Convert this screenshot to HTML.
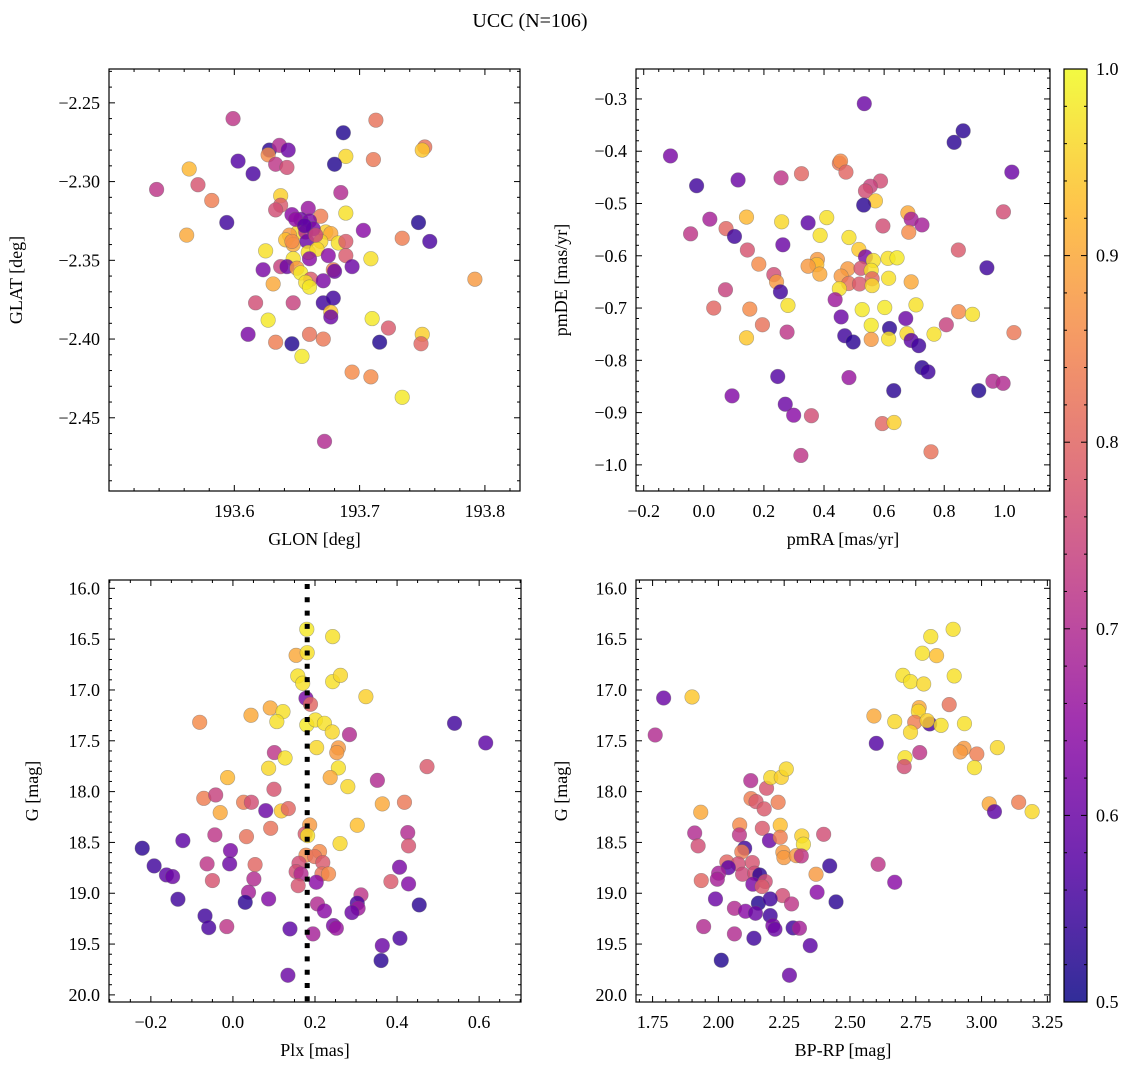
<!DOCTYPE html>
<html><head><meta charset="utf-8"><style>
html,body{margin:0;padding:0;background:#fff}
svg{display:block;font-family:"Liberation Serif","DejaVu Serif",serif}
</style></head><body>
<svg id="fig" width="1136" height="1068" viewBox="0 0 1136 1068" xmlns="http://www.w3.org/2000/svg">
<text x="530" y="27" font-size="20" text-anchor="middle">UCC (N=106)</text>
</svg>
<script>
// ---- Panel 1: GLON vs GLAT ----
const p1Glon=[193.599,193.713,193.687,193.752,193.750,193.628,193.636,193.643,193.627,193.689,193.680,193.711,193.603,193.633,193.642,193.564,193.615,193.571,193.538,193.685,193.637,193.582,193.637,193.633,193.659,193.689,193.646,193.669,193.653,193.660,193.594,193.747,193.703,193.562,193.734,193.756,193.651,193.644,193.657,193.673,193.677,193.663,193.641,193.647,193.658,193.669,193.683,193.689,193.625,193.659,193.666,193.660,193.675,193.689,193.709,193.647,193.637,193.642,193.623,193.650,193.679,193.680,193.694,193.653,193.631,193.661,193.671,193.657,193.660,193.792,193.617,193.647,193.671,193.679,193.677,193.677,193.627,193.710,193.723,193.611,193.660,193.750,193.749,193.633,193.646,193.671,193.716,193.654,193.694,193.709,193.734,193.672,193.649,193.656,193.646,193.665];
const p1Glat=[-2.260,-2.261,-2.269,-2.278,-2.280,-2.280,-2.277,-2.280,-2.283,-2.284,-2.289,-2.286,-2.287,-2.289,-2.291,-2.292,-2.295,-2.302,-2.305,-2.307,-2.309,-2.312,-2.315,-2.318,-2.317,-2.320,-2.321,-2.322,-2.324,-2.325,-2.326,-2.326,-2.331,-2.334,-2.336,-2.338,-2.332,-2.334,-2.332,-2.332,-2.333,-2.330,-2.337,-2.340,-2.338,-2.338,-2.339,-2.338,-2.344,-2.345,-2.343,-2.349,-2.347,-2.347,-2.349,-2.349,-2.354,-2.354,-2.356,-2.355,-2.356,-2.357,-2.354,-2.358,-2.365,-2.362,-2.363,-2.364,-2.367,-2.362,-2.377,-2.377,-2.377,-2.374,-2.383,-2.386,-2.388,-2.387,-2.393,-2.397,-2.397,-2.397,-2.403,-2.402,-2.403,-2.400,-2.402,-2.411,-2.421,-2.424,-2.437,-2.465,-2.324,-2.328,-2.338,-2.334];
const p1Prob=[.72,.82,.52,.82,.94,.53,.70,.60,.86,.96,.52,.83,.57,.72,.76,.92,.56,.77,.72,.70,.95,.84,.78,.76,.66,.97,.64,.84,.60,.62,.55,.52,.64,.90,.84,.56,.96,.88,.70,.95,.90,.62,.93,.90,.60,.96,.97,.78,.97,.97,.96,.64,.64,.78,.97,.97,.74,.60,.62,.88,.84,.60,.60,.98,.90,.78,.62,.97,.98,.88,.76,.74,.55,.55,.94,.60,.98,.98,.78,.62,.82,.95,.80,.84,.52,.83,.52,.98,.86,.86,.98,.70,.65,.58,.86,.75];
// ---- Panel 2: pmRA vs pmDE ----
const p2PmRA=[.534,.863,.833,-.111,1.025,-.024,.114,.257,.325,.451,.455,.473,.588,.554,.538,.571,.532,.997,.142,.259,.347,.409,.020,.679,.690,.726,.596,-.044,.074,.102,.682,.387,.483,.263,.145,.847,.516,.538,.564,.613,.643,.942,.183,.378,.376,.347,.386,.479,.523,.557,.560,.457,.233,.242,.255,.072,.615,.690,.482,.518,.560,.451,.437,.033,.153,.280,.527,.602,.706,.848,.894,.457,.672,.195,.557,.807,.618,.142,.277,.469,.497,.557,.615,.676,.690,.715,.766,1.032,.726,.746,.246,.483,.632,.915,.962,.996,.094,.271,.299,.358,.594,.633,.323,.756];
const p2PmDE=[-.309,-.361,-.383,-.409,-.440,-.466,-.455,-.451,-.443,-.423,-.419,-.440,-.457,-.467,-.476,-.495,-.503,-.516,-.526,-.535,-.537,-.527,-.530,-.518,-.530,-.541,-.543,-.558,-.548,-.563,-.555,-.561,-.565,-.579,-.589,-.589,-.588,-.602,-.609,-.605,-.604,-.623,-.616,-.607,-.617,-.620,-.635,-.625,-.624,-.628,-.644,-.639,-.636,-.650,-.669,-.665,-.643,-.650,-.653,-.654,-.657,-.663,-.684,-.700,-.702,-.695,-.703,-.699,-.694,-.707,-.712,-.717,-.720,-.732,-.733,-.732,-.739,-.757,-.746,-.753,-.765,-.760,-.759,-.749,-.762,-.772,-.750,-.747,-.814,-.822,-.831,-.833,-.858,-.858,-.840,-.844,-.868,-.884,-.905,-.906,-.921,-.919,-.982,-.975];
const p2Prob=[.60,.53,.53,.62,.60,.55,.60,.72,.80,.83,.86,.80,.76,.74,.76,.94,.53,.76,.92,.96,.58,.97,.68,.90,.68,.68,.76,.72,.80,.55,.86,.97,.97,.60,.77,.78,.94,.62,.97,.97,.98,.55,.86,.88,.93,.88,.90,.88,.77,.97,.80,.88,.76,.88,.55,.74,.97,.90,.82,.78,.96,.97,.67,.80,.86,.97,.98,.98,.97,.86,.97,.60,.60,.82,.98,.74,.53,.94,.72,.55,.53,.88,.97,.96,.58,.55,.97,.83,.53,.55,.57,.66,.53,.52,.70,.70,.63,.60,.64,.76,.80,.95,.72,.82];
// ---- Panel 3: Plx vs G ----
const p3Plx=[.180,.243,.154,.181,.158,.170,.243,.262,.178,.189,.324,-.081,.044,.091,.122,.107,.180,.201,.223,.242,.284,.540,.616,.204,.257,.253,.101,.127,.473,.087,.257,.237,-.013,.352,.280,.100,-.071,-.042,.026,.045,.364,.418,-.031,.080,.118,.135,.092,.187,.303,-.044,.033,.176,.182,.261,.426,.428,-.221,-.122,-.006,.178,.211,.199,.219,.161,-.192,-.063,-.008,.054,.406,-.162,-.147,.154,.166,.217,.233,-.050,.051,.159,.203,.385,.428,.038,.312,-.134,.030,.087,.206,.303,.305,.223,.290,.454,-.068,-.059,-.015,.139,.245,.252,.195,.364,.407,.361,.134];
const p3G=[16.403,16.475,16.659,16.633,16.862,16.934,16.918,16.856,17.082,17.141,17.066,17.318,17.249,17.177,17.213,17.311,17.344,17.295,17.328,17.413,17.439,17.328,17.521,17.567,17.570,17.616,17.616,17.669,17.754,17.770,17.767,17.862,17.862,17.889,17.951,17.977,18.066,18.033,18.105,18.105,18.121,18.105,18.207,18.187,18.190,18.167,18.361,18.328,18.331,18.426,18.443,18.416,18.433,18.511,18.403,18.534,18.557,18.482,18.580,18.626,18.590,18.639,18.698,18.705,18.731,18.711,18.711,18.718,18.744,18.820,18.836,18.787,18.810,18.810,18.810,18.875,18.859,18.925,18.892,18.885,18.908,18.990,19.016,19.059,19.089,19.056,19.105,19.098,19.148,19.174,19.190,19.115,19.223,19.338,19.328,19.351,19.318,19.344,19.400,19.515,19.443,19.662,19.807];
const p3Prob=[.98,.97,.90,.97,.97,.97,.97,.96,.62,.80,.95,.86,.90,.90,.97,.97,.98,.97,.97,.96,.70,.55,.58,.96,.88,.88,.72,.97,.78,.96,.97,.90,.92,.70,.96,.77,.84,.74,.84,.76,.90,.83,.90,.60,.94,.80,.82,.88,.93,.72,.82,.78,.97,.96,.70,.77,.53,.58,.62,.86,.86,.82,.78,.76,.55,.72,.60,.80,.62,.58,.60,.76,.70,.82,.86,.77,.70,.77,.64,.78,.63,.68,.72,.55,.53,.63,.70,.56,.67,.64,.60,.53,.55,.56,.72,.58,.62,.66,.68,.60,.56,.53,.60];
const p3PlxMean=[0.181];
// ---- Panel 4: BP-RP vs G ----
const p4BpRp=[1.792,1.900,1.760,2.892,2.807,2.775,2.829,2.701,2.730,2.780,2.896,2.877,2.591,2.670,2.763,2.760,2.746,2.803,2.793,2.846,2.730,2.935,2.600,2.765,2.709,2.706,2.933,2.919,2.982,3.060,2.973,3.029,3.049,3.141,3.192,2.123,2.183,2.199,2.239,2.258,2.124,2.143,2.174,2.227,1.933,2.081,2.167,2.235,2.194,2.235,2.317,2.323,2.400,1.910,1.923,2.080,2.100,2.089,2.245,2.249,2.296,2.315,2.032,2.075,2.129,2.038,2.001,2.092,2.138,2.157,2.131,2.178,2.166,1.935,1.996,2.371,2.423,2.607,2.670,2.375,2.447,2.244,2.278,1.989,2.152,2.197,2.061,2.103,2.141,2.197,2.207,2.215,2.284,2.308,1.944,2.061,2.135,2.349,2.011,2.270];
const p4G=[17.079,17.069,17.443,16.403,16.475,16.639,16.662,16.856,16.918,16.941,16.862,17.144,17.256,17.311,17.174,17.210,17.318,17.334,17.302,17.348,17.416,17.331,17.525,17.616,17.666,17.754,17.574,17.610,17.630,17.567,17.764,18.121,18.197,18.105,18.197,17.892,17.967,17.862,17.859,17.777,18.069,18.098,18.170,18.105,18.203,18.328,18.361,18.331,18.482,18.449,18.436,18.518,18.420,18.407,18.534,18.426,18.557,18.593,18.597,18.649,18.630,18.633,18.692,18.711,18.698,18.748,18.803,18.813,18.803,18.820,18.911,18.885,18.934,18.875,18.862,18.813,18.731,18.715,18.892,18.990,19.085,19.023,19.105,19.056,19.098,19.056,19.148,19.177,19.197,19.220,19.318,19.354,19.341,19.344,19.328,19.400,19.443,19.515,19.659,19.807];
const p4Prob=[.60,.94,.70,.97,.97,.97,.93,.97,.97,.96,.97,.82,.90,.96,.90,.96,.84,.56,.95,.97,.96,.97,.57,.72,.97,.76,.88,.88,.84,.96,.97,.90,.58,.84,.96,.70,.77,.96,.95,.96,.84,.78,.78,.84,.90,.86,.78,.93,.60,.84,.95,.97,.76,.70,.76,.72,.55,.84,.88,.88,.88,.72,.80,.76,.77,.58,.68,.75,.76,.53,.62,.76,.78,.80,.68,.88,.54,.72,.64,.64,.53,.76,.72,.60,.52,.55,.70,.64,.60,.55,.62,.60,.55,.68,.70,.70,.55,.58,.52,.60];
// ---- tick labels ----
const p1XTicks=[193.6,193.7,193.8], p1YTicks=[-2.25,-2.30,-2.35,-2.40,-2.45];
const p2XTicks=[-0.2,0.0,0.2,0.4,0.6,0.8,1.0], p2YTicks=[-0.3,-0.4,-0.5,-0.6,-0.7,-0.8,-0.9,-1.0];
const p3XTicks=[-0.2,0.0,0.2,0.4,0.6], gTicks=[16.0,16.5,17.0,17.5,18.0,18.5,19.0,19.5,20.0];
const p4XTicks=[1.75,2.00,2.25,2.50,2.75,3.00,3.25];
const cbTicks=[0.5,0.6,0.7,0.8,0.9,1.0];

const NS="http://www.w3.org/2000/svg";
const svg=document.getElementById('fig');
function mk(tag,attrs,parent){const e=document.createElementNS(NS,tag);for(const k in attrs)e.setAttribute(k,attrs[k]);(parent||svg).appendChild(e);return e;}
const PL=[[13,8,135],[84,2,163],[139,10,165],[185,50,137],[219,92,104],[244,136,73],[254,188,43],[240,249,33]];
function plasma(t){t=Math.max(0,Math.min(1,t));const s=t*(PL.length-1),i=Math.min(PL.length-2,Math.floor(s)),f=s-i;const c=PL[i].map((v,k)=>Math.round(v+(PL[i+1][k]-v)*f));return `rgb(${c[0]},${c[1]},${c[2]})`;}
function col(p){return plasma((p-0.5)/0.5);}
function fmt(v,d){return (v<0?'\u2212':'')+Math.abs(v).toFixed(d);}

function panel(o){
  const g=mk('g',{});
  
  
  const sx=v=>o.L+(v-o.x0)/(o.x1-o.x0)*(o.R-o.L);
  const sy=v=>o.T+(v-o.y0)/(o.y1-o.y0)*(o.B-o.T);
  const tg=mk('g',{stroke:'#000','stroke-width':1},g);
  for(let v=Math.ceil(o.x0/o.xmin-1e-6)*o.xmin; v<=o.x1+1e-9; v+=o.xmin){
    const X=sx(v);const maj=Math.abs(v/o.xmaj-Math.round(v/o.xmaj))<1e-6;const l=maj?6:3;
    mk('line',{x1:X,x2:X,y1:o.B,y2:o.B-l},tg);mk('line',{x1:X,x2:X,y1:o.T,y2:o.T+l},tg);}
  const ylo=Math.min(o.y0,o.y1),yhi=Math.max(o.y0,o.y1);
  for(let v=Math.ceil(ylo/o.ymin-1e-6)*o.ymin; v<=yhi+1e-9; v+=o.ymin){
    const Y=sy(v);const maj=Math.abs(v/o.ymaj-Math.round(v/o.ymaj))<1e-6;const l=maj?6:3;
    mk('line',{x1:o.L,x2:o.L+l,y1:Y,y2:Y},tg);mk('line',{x1:o.R,x2:o.R-l,y1:Y,y2:Y},tg);}
  o.xt.forEach(v=>{const t=mk('text',{x:sx(v),y:o.B+26,'font-size':18,'text-anchor':'middle'},g);t.textContent=fmt(v,o.xd);
    });
  o.yt.forEach(v=>{const t=mk('text',{x:o.L-9,y:sy(v)+6,'font-size':18,'text-anchor':'end'},g);t.textContent=fmt(v,o.yd);
    });
  const xl=mk('text',{x:(o.L+o.R)/2,y:o.B+54,'font-size':18,'text-anchor':'middle'},g);xl.textContent=o.xlab;
  
  const yl=mk('text',{x:o.ylx,y:(o.T+o.B)/2,'font-size':18,'text-anchor':'middle',transform:`rotate(-90 ${o.ylx} ${(o.T+o.B)/2})`},g);yl.textContent=o.ylab;
  
  const pg=mk('g',{},g);
  o.xs.forEach((x,i)=>{const c=mk('circle',{cx:sx(x),cy:sy(o.ys[i]),r:7.3,fill:col(o.cs[i]),'fill-opacity':0.82,stroke:'#666','stroke-opacity':0.5,'stroke-width':0.6},pg);
    });
  if(o.vline!==undefined){const l=mk('line',{x1:sx(o.vline),x2:sx(o.vline),y1:o.T+4,y2:o.B,stroke:'#000','stroke-width':5,'stroke-dasharray':'5,8.3'},g);
    }
  const f=mk('rect',{x:o.L,y:o.T,width:o.R-o.L,height:o.B-o.T,fill:'none',stroke:'#000','stroke-width':1.2},g);
  
}
panel({name:'glon-glat-panel',L:109,R:520,T:69,B:491,x0:193.5,x1:193.828,y0:-2.2285,y1:-2.4965,xmin:0.02,xmaj:0.1,ymin:0.01,ymaj:0.05,xt:p1XTicks,yt:p1YTicks,xd:1,yd:2,xlab:'GLON [deg]',ylab:'GLAT [deg]',ylx:22,xs:p1Glon,ys:p1Glat,cs:p1Prob});
panel({name:'pm-panel',L:636,R:1050,T:69,B:491,x0:-0.2257,x1:1.152,y0:-0.2427,y1:-1.050,xmin:0.05,xmaj:0.2,ymin:0.02,ymaj:0.1,xt:p2XTicks,yt:p2YTicks,xd:1,yd:1,xlab:'pmRA [mas/yr]',ylab:'pmDE [mas/yr]',ylx:567,xs:p2PmRA,ys:p2PmDE,cs:p2Prob});
panel({name:'plx-g-panel',L:109,R:521,T:580,B:1002,x0:-0.302,x1:0.702,y0:15.918,y1:20.07,xmin:0.05,xmaj:0.2,ymin:0.1,ymaj:0.5,xt:p3XTicks,yt:gTicks,xd:1,yd:1,xlab:'Plx [mas]',ylab:'G [mag]',ylx:38,xs:p3Plx,ys:p3G,cs:p3Prob,vline:p3PlxMean[0]});
panel({name:'cmd-panel',L:636,R:1050,T:580,B:1002,x0:1.687,x1:3.260,y0:15.918,y1:20.07,xmin:0.05,xmaj:0.25,ymin:0.1,ymaj:0.5,xt:p4XTicks,yt:gTicks,xd:2,yd:1,xlab:'BP-RP [mag]',ylab:'G [mag]',ylx:567,xs:p4BpRp,ys:p4G,cs:p4Prob});

(function(){
  const L=1064,R=1087,T=69,B=1002;
  const defs=mk('defs',{});const lg=mk('linearGradient',{id:'cbg',x1:0,y1:1,x2:0,y2:0},defs);
  for(let i=0;i<=20;i++){mk('stop',{offset:i/20,'stop-color':plasma(i/20),'stop-opacity':0.85},lg);}
  const r=mk('rect',{x:L,y:T,width:R-L,height:B-T,fill:'url(#cbg)',stroke:'#000','stroke-width':1.2});
  
  const sy=v=>B-(v-0.5)/0.5*(B-T);
  for(let v=0.5;v<=1.0001;v+=0.02){const Y=sy(v);const maj=Math.abs(v*10-Math.round(v*10))<1e-6;
    mk('line',{x1:R,x2:R-(maj?6:3),y1:Y,y2:Y,stroke:'#000','stroke-width':1});mk('line',{x1:L,x2:L+(maj?6:3),y1:Y,y2:Y,stroke:'#000','stroke-width':1});}
  cbTicks.forEach(v=>{const t=mk('text',{x:R+9,y:sy(v)+6,'font-size':18});t.textContent=v.toFixed(1);
    });
})();
</script>
</body></html>
